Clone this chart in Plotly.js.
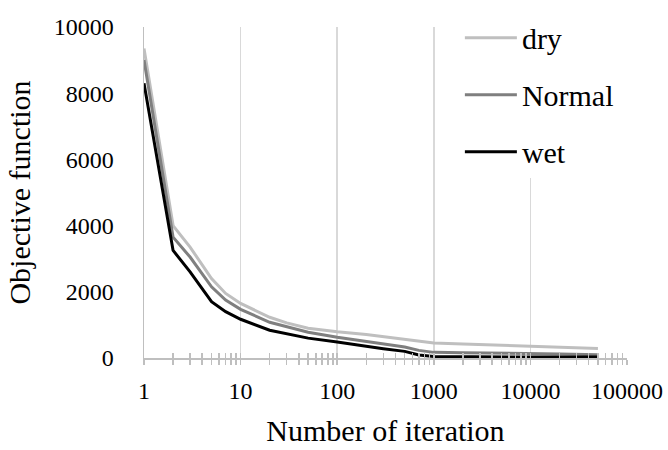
<!DOCTYPE html>
<html>
<head>
<meta charset="utf-8">
<script src="https://cdn.plot.ly/plotly-3.0.1.min.js"></script>
<style>
html,body{margin:0;padding:0;background:#fff;}
#chart{width:668px;height:450px;}
#chart text{font-family:'Liberation Serif','Times New Roman',serif !important;}
#pad{position:absolute;left:660px;top:442px;width:4px;height:4px;color:#fff;font-size:2px;font-family:'Liberation Serif';}
</style>
</head>
<body>
<div id="chart"></div>
<div id="pad">&nbsp;</div>
<svg width="1" height="1" style="position:absolute;left:0;top:0"></svg>
<script>
// Iteration numbers (x)
const iterations = [1, 2, 3, 4, 5, 7, 10, 20, 30, 50, 100, 200, 300, 500, 700, 1000, 2000, 5000, 10000, 20000, 50000];
// Objective function values per scenario
const dryValues    = [9350, 4000, 3350, 2830, 2400, 1950, 1650, 1230, 1060, 900, 790, 710, 640, 560, 500, 450, 420, 380, 340, 310, 290];
const normalValues = [9000, 3650, 3050, 2560, 2150, 1750, 1470, 1080, 950, 780, 630, 500, 420, 330, 230, 170, 160, 150, 140, 120, 100];
const wetValues    = [8300, 3250, 2600, 2100, 1700, 1400, 1170, 840, 740, 600, 480, 340, 280, 200, 90, 45, 35, 30, 30, 30, 30];
const seriesNames  = ['dry', 'Normal', 'wet'];
const xTickVals  = [1, 10, 100, 1000, 10000, 100000];
const xTickText  = ['1', '10', '100', '1000', '10000', '100000'];
const yTickVals  = [0, 2000, 4000, 6000, 8000, 10000];
const yTickText  = ['0', '2000', '4000', '6000', '8000', '10000'];

const minorVals = [];
for (let d = 0; d < 5; d++) {
  for (let m = 2; m <= 9; m++) minorVals.push(m * Math.pow(10, d));
}

const colors = ['#bfbfbf', '#7f7f7f', '#000000'];
const values = [dryValues, normalValues, wetValues];
const traces = values.map((v, i) => ({
  type: 'scatter', mode: 'lines', x: iterations, y: v, name: seriesNames[i],
  legendgroup: 'g' + i,
  line: {color: colors[i], width: 3}, hoverinfo: 'skip'
}));

const FAM = 'Liberation Serif';
const axisGray = '#bfbfbf';

const layout = {
  width: 668, height: 450,
  margin: {l: 144, r: 40.5, t: 24, b: 92},
  paper_bgcolor: '#fff', plot_bgcolor: '#fff',
  font: {family: FAM, size: 24, color: '#000'},
  showlegend: true,
  legend: {
    x: 0.654, y: 1.046, xanchor: 'left', yanchor: 'top',
    bgcolor: '#ffffff', borderwidth: 0,
    font: {family: FAM, size: 30, color: '#000'},
    tracegroupgap: 15,
    itemwidth: 52
  },
  xaxis: {
    type: 'log', range: [0, 5],
    tickmode: 'array', tickvals: xTickVals, ticktext: xTickText,
    showgrid: true, gridcolor: '#d9d9d9', gridwidth: 1.5,
    showline: true, linecolor: axisGray, linewidth: 1.5,
    ticks: 'outside', ticklen: 5, tickcolor: axisGray, tickwidth: 1.5,
    minor: {tickmode: 'array', tickvals: minorVals, ticks: 'outside', ticklen: 5, tickcolor: axisGray, tickwidth: 1.5, showgrid: false},
    tickfont: {family: FAM, size: 24, color: '#000'},
    ticklabelstandoff: 6,
    zeroline: false,
    title: {text: 'Number of iteration', font: {family: FAM, size: 30, color: '#000'}, standoff: 16}
  },
  xaxis2: {
    type: 'log', range: [0, 5], overlaying: 'x', anchor: 'y', side: 'bottom',
    tickmode: 'array', tickvals: xTickVals, showticklabels: false,
    showgrid: false, showline: false, zeroline: false,
    ticks: 'inside', ticklen: 5, tickcolor: axisGray, tickwidth: 1.5,
    minor: {tickmode: 'array', tickvals: minorVals, ticks: 'inside', ticklen: 5, tickcolor: axisGray, tickwidth: 1.5, showgrid: false}
  },
  yaxis: {
    range: [0, 10000],
    tickmode: 'array', tickvals: yTickVals, ticktext: yTickText,
    showgrid: false, zeroline: false,
    showline: true, linecolor: axisGray, linewidth: 1.5,
    ticks: '',
    tickfont: {family: FAM, size: 24, color: '#000'},
    ticklabelstandoff: 24,
    title: {text: 'Objective function', font: {family: FAM, size: 30, color: '#000'}, standoff: 14}
  }
};

traces.push({type: 'scatter', x: [], y: [], xaxis: 'x2', yaxis: 'y', showlegend: false, hoverinfo: 'skip'});

Plotly.newPlot('chart', traces, layout, {staticPlot: true, displayModeBar: false});
</script>
</body>
</html>
